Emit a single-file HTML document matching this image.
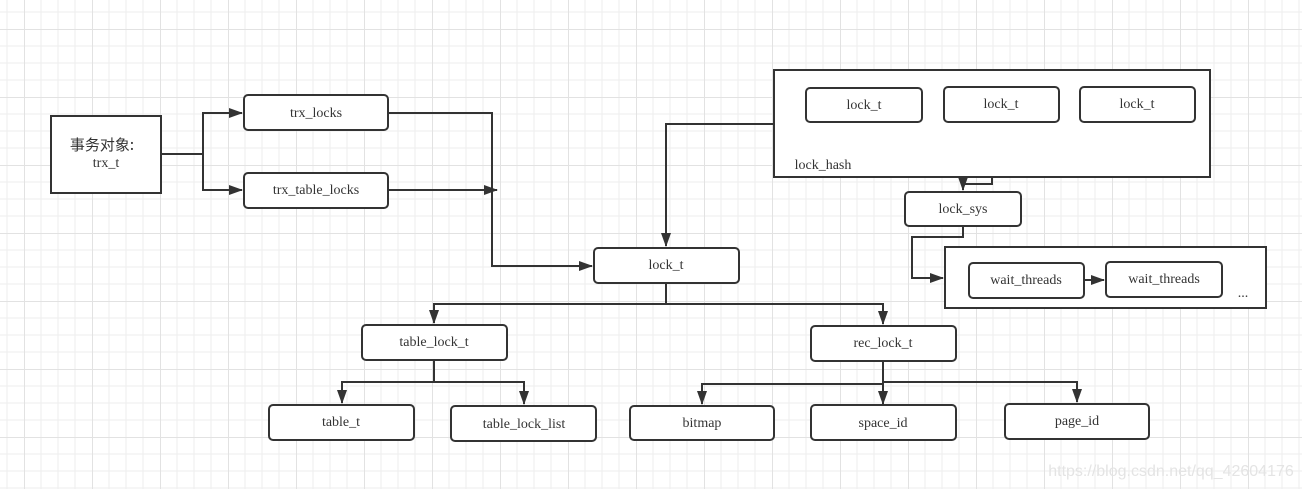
<!DOCTYPE html>
<html><head><meta charset="utf-8"><style>
html,body{margin:0;padding:0;background:#fff}
svg{display:block}
text{font-family:"Liberation Serif","Noto Serif CJK SC",serif;font-size:14px;fill:#333;text-anchor:middle}
</style></head><body>
<svg width="1302" height="489" xmlns="http://www.w3.org/2000/svg">
<defs>
<pattern id="g" x="24" y="29" width="68" height="68" patternUnits="userSpaceOnUse">
<path d="M17 0V68M34 0V68M51 0V68M0 17H68M0 34H68M0 51H68" stroke="#eeeeee" stroke-width="1" fill="none"/>
<path d="M0.5 0V68M0 0.5H68" stroke="#e2e2e2" stroke-width="1" fill="none"/>
</pattern>
<marker id="a" viewBox="0 0 14 10" refX="13" refY="5" markerWidth="14" markerHeight="10" orient="auto" markerUnits="userSpaceOnUse">
<path d="M0 0L14 5L0 10z" fill="#333"/>
</marker>
</defs>
<rect width="1302" height="489" fill="url(#g)"/>
<g fill="#fff" stroke="#333" stroke-width="2">
<rect x="51" y="116" width="110" height="77"/>
<rect x="244" y="95" width="144" height="35" rx="4"/>
<rect x="244" y="173" width="144" height="35" rx="4"/>
<rect x="774" y="70" width="436" height="107"/>
<rect x="806" y="88" width="116" height="34" rx="4"/>
<rect x="944" y="87" width="115" height="35" rx="4"/>
<rect x="1080" y="87" width="115" height="35" rx="4"/>
<rect x="905" y="192" width="116" height="34" rx="4"/>
<rect x="945" y="247" width="321" height="61"/>
<rect x="969" y="263" width="115" height="35" rx="4"/>
<rect x="1106" y="262" width="116" height="35" rx="4"/>
<rect x="594" y="248" width="145" height="35" rx="4"/>
<rect x="362" y="325" width="145" height="35" rx="4"/>
<rect x="811" y="326" width="145" height="35" rx="4"/>
<rect x="269" y="405" width="145" height="35" rx="4"/>
<rect x="451" y="406" width="145" height="35" rx="4"/>
<rect x="630" y="406" width="144" height="34" rx="4"/>
<rect x="811" y="405" width="145" height="35" rx="4"/>
<rect x="1005" y="404" width="144" height="35" rx="4"/>
</g>
<g fill="none" stroke="#333" stroke-width="2">
<path d="M161 154H203V113H242" marker-end="url(#a)"/>
<path d="M203 154V190H242" marker-end="url(#a)"/>
<path d="M388 113H492V266H592" marker-end="url(#a)"/>
<path d="M388 190L497 190" marker-end="url(#a)"/>
<path d="M774 124H666V246" marker-end="url(#a)"/>
<path d="M992 177V184H963V190" marker-end="url(#a)"/>
<path d="M963 226V237H912V278H943" marker-end="url(#a)"/>
<path d="M1084 280H1104" marker-end="url(#a)"/>
<path d="M666 283V304H434V323" marker-end="url(#a)"/>
<path d="M666 304H883V324" marker-end="url(#a)"/>
<path d="M434 360V382H342V403" marker-end="url(#a)"/>
<path d="M434 382H524V404" marker-end="url(#a)"/>
<path d="M883 361V404" marker-end="url(#a)"/>
<path d="M883 384H702V404" marker-end="url(#a)"/>
<path d="M883 382H1077V402" marker-end="url(#a)"/>
</g>
<text x="102" y="150" style="font-family:'Noto Sans CJK SC',sans-serif;font-size:15px">事务对象:</text>
<text x="106" y="167">trx_t</text>
<text x="316" y="117">trx_locks</text>
<text x="316" y="194">trx_table_locks</text>
<text x="864" y="109">lock_t</text>
<text x="1001" y="108">lock_t</text>
<text x="1137" y="108">lock_t</text>
<text x="823" y="169">lock_hash</text>
<text x="963" y="213">lock_sys</text>
<text x="1026" y="284">wait_threads</text>
<text x="1164" y="283">wait_threads</text>
<text x="1243" y="297">...</text>
<text x="666" y="269">lock_t</text>
<text x="434" y="346">table_lock_t</text>
<text x="883" y="347">rec_lock_t</text>
<text x="341" y="426">table_t</text>
<text x="524" y="428">table_lock_list</text>
<text x="702" y="427">bitmap</text>
<text x="883" y="427">space_id</text>
<text x="1077" y="425">page_id</text>
<text x="1171" y="476" style="font-family:'Liberation Sans',sans-serif;font-size:16px;fill:#e4e4e4">https://blog.csdn.net/qq_42604176</text>
</svg>
</body></html>
